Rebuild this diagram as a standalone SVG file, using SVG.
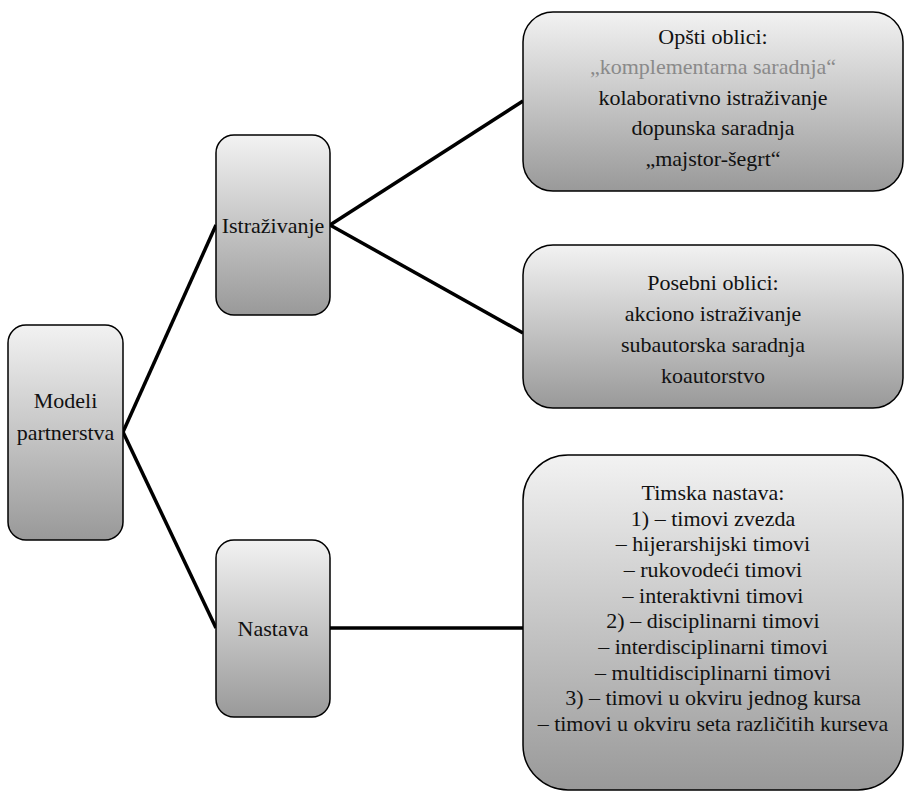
<svg xmlns="http://www.w3.org/2000/svg" width="907" height="794" viewBox="0 0 907 794" font-family="Liberation Serif, DejaVu Serif, Times New Roman, serif">
<defs>
<linearGradient id="g" x1="0" y1="0" x2="0" y2="1">
<stop offset="0" stop-color="#f2f2f2"/>
<stop offset="1" stop-color="#999"/>
</linearGradient>
<style>
.box{fill:url(#g);stroke:#000;stroke-width:1.5}
.t{font-size:22px;fill:#111;text-anchor:middle}
.c{fill:none;stroke:#000;stroke-width:3.5}
</style>
</defs>
<rect width="907" height="794" fill="#fff"/>
<g id="connectors">
<path class="c" d="M123,432 L216,225"/>
<path class="c" d="M123,432 L216,628"/>
<path class="c" d="M330,225 L523,101"/>
<path class="c" d="M330,225 L523,333"/>
<path class="c" d="M330,628 L523,628"/>
</g>
<g id="modeli">
<rect class="box" x="8" y="325" width="115" height="215" rx="18"/>
<text class="t" font-family="Liberation Serif, serif" x="65.5" y="408">Modeli</text>
<text class="t" font-family="Liberation Serif, serif" x="65.5" y="440">partnerstva</text>
</g>
<g id="istrazivanje">
<rect class="box" x="216" y="135" width="114" height="180" rx="18"/>
<text class="t" font-family="Liberation Serif, serif" x="273" y="233">Istraživanje</text>
</g>
<g id="nastava">
<rect class="box" x="216" y="540" width="114" height="177" rx="18"/>
<text class="t" font-family="Liberation Serif, serif" x="273" y="636">Nastava</text>
</g>
<g id="opsti" font-family="Liberation Serif, serif">
<rect class="box" x="523" y="12" width="380" height="179" rx="30"/>
<text class="t" x="713" y="44">Opšti oblici:</text>
<text class="t" x="713" y="74" style="fill:#8a8a8a">„komplementarna saradnja“</text>
<text class="t" x="713" y="105">kolaborativno istraživanje</text>
<text class="t" x="713" y="135">dopunska saradnja</text>
<text class="t" x="713" y="166">„majstor-šegrt“</text>
</g>
<g id="posebni" font-family="Liberation Serif, serif">
<rect class="box" x="523" y="245" width="380" height="163" rx="30"/>
<text class="t" x="713" y="290">Posebni oblici:</text>
<text class="t" x="713" y="321">akciono istraživanje</text>
<text class="t" x="713" y="352">subautorska saradnja</text>
<text class="t" x="713" y="383">koautorstvo</text>
</g>
<g id="timska" font-family="Liberation Serif, serif">
<rect class="box" x="523" y="455" width="380" height="335" rx="45"/>
<text class="t" x="713" y="500">Timska nastava:</text>
<text class="t" x="713" y="526">1) – timovi zvezda</text>
<text class="t" x="713" y="551">– hijerarshijski timovi</text>
<text class="t" x="713" y="577">– rukovodeći timovi</text>
<text class="t" x="713" y="603">– interaktivni timovi</text>
<text class="t" x="713" y="628">2) – disciplinarni timovi</text>
<text class="t" x="713" y="654">– interdisciplinarni timovi</text>
<text class="t" x="713" y="680">– multidisciplinarni timovi</text>
<text class="t" x="713" y="705">3) – timovi u okviru jednog kursa</text>
<text class="t" x="713" y="731">– timovi u okviru seta različitih kurseva</text>
</g>
</svg>
